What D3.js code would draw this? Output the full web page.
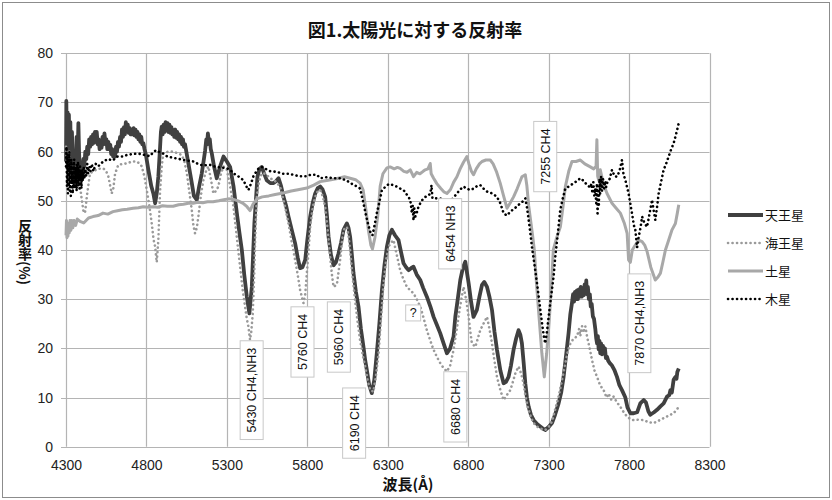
<!DOCTYPE html>
<html><head><meta charset="utf-8">
<script src="https://cdn.jsdelivr.net/npm/d3@7/dist/d3.min.js"></script>
<style>body{margin:0;background:#fff}</style>
</head><body>
<svg id="c" width="832" height="500"></svg>
<script>
const titleText = "図1.太陽光に対する反射率";
const xTitle = "波長(Å)";
const yTitle = "反射率(%)";
const xTicks = [4300,4800,5300,5800,6300,6800,7300,7800,8300];
const yTicks = [0,10,20,30,40,50,60,70,80];
const seriesNames = ["天王星","海王星","土星","木星"];

const uranus = [[4300,58],[4302,70.3],[4306,60],[4310,68],[4314,57],[4318,67.5],[4322,59],[4327,66],[4332,56],[4337,64],[4342,58],[4347,56],[4352,54],[4356,53.6],[4361,58],[4366,63],[4371,57],[4377,65.8],[4381,60],[4386,56],[4391,54.5],[4396,54.2],[4402,56],[4408,58.5],[4414,57],[4420,60],[4426,58.5],[4432,61],[4438,59.5],[4444,62.5],[4450,61],[4456,63],[4462,61.5],[4468,63.5],[4474,61.8],[4480,64],[4486,62],[4491,64],[4497,61.5],[4503,62.5],[4509,60.5],[4515,62],[4521,60.8],[4527,63],[4533,61.5],[4539,63.7],[4545,61.8],[4551,62.5],[4557,60.5],[4563,62],[4569,60.5],[4575,61.4],[4581,59.5],[4587,60.5],[4593,59],[4599,60],[4605,59],[4611,61],[4617,60],[4623,62],[4629,61],[4636,63],[4642,62],[4648,64.5],[4654,63],[4660,65],[4666,63.5],[4672,66],[4678,64.5],[4684,65.5],[4690,63.8],[4696,64.8],[4702,63.5],[4708,64.5],[4714,63.5],[4720,64.8],[4726,63.3],[4732,64.5],[4738,63],[4744,64],[4750,62.5],[4756,63.5],[4762,62],[4768,63],[4774,61.5],[4781,61.7],[4788,60.5],[4796,59.5],[4812,56.3],[4830,53],[4843,51.5],[4854,49.5],[4864,51.5],[4874,54.9],[4885,61],[4890,64],[4895,65.1],[4901,63.5],[4907,65.5],[4913,64],[4919,66],[4925,64.5],[4931,65.8],[4937,64],[4943,65.5],[4949,63.8],[4955,65],[4961,63.5],[4967,64.4],[4973,63],[4979,64.5],[4985,62.8],[4991,64],[4997,62.5],[5003,63.5],[5009,62],[5015,63],[5021,61.5],[5027,62.5],[5033,61],[5040,61.5],[5048,60],[5056,58.5],[5064,57],[5072,55.5],[5082,53.6],[5095,51],[5113,50.2],[5128,53],[5144,55.6],[5155,58],[5165,60.3],[5172,62.5],[5177,61.5],[5182,63.7],[5188,62],[5194,62.5],[5200,60.5],[5206,59.7],[5220,57],[5237,54.6],[5258,57],[5279,59],[5300,58],[5320,56.9],[5341,53],[5362,47.5],[5378,43.5],[5393,40],[5408,35],[5424,30.5],[5440,27.1],[5455,32.5],[5471,45.4],[5490,54.9],[5503,56.5],[5517,56.9],[5532,55.5],[5548,54.2],[5570,53.6],[5590,53.6],[5605,54],[5621,54.6],[5637,53],[5652,50.8],[5668,49],[5683,46.8],[5704,44],[5724,41.4],[5740,38.5],[5755,36.3],[5770,36.5],[5787,38],[5800,42],[5818,46.8],[5833,49.5],[5849,51.5],[5865,52.6],[5880,52.9],[5895,52.3],[5911,50.8],[5922,47],[5932,42.7],[5947,39],[5963,36.9],[5978,37.5],[5994,39.3],[6010,41.5],[6025,44.1],[6046,45.4],[6056,44.5],[6066,42.7],[6077,39],[6087,35.3],[6102,31.5],[6118,28.5],[6133,24],[6149,20.3],[6160,17.5],[6170,15.6],[6185,12.5],[6201,10.9],[6216,13.5],[6232,19],[6248,25],[6264,31.9],[6280,37],[6295,40.7],[6310,43],[6326,44.1],[6345,43],[6367,42],[6383,39.5],[6398,37.3],[6414,36.5],[6429,35.9],[6445,36.3],[6460,36.6],[6480,35],[6502,33.9],[6520,32.3],[6543,30.5],[6565,28.5],[6585,26.4],[6605,24.8],[6626,23.1],[6647,21],[6668,19],[6688,20],[6709,22.4],[6720,26.4],[6735,30],[6751,33.9],[6768,36.5],[6782,37.6],[6792,35.5],[6803,33.2],[6818,29.5],[6833,26.4],[6854,27.8],[6870,30.5],[6886,32.9],[6900,33.5],[6917,32.5],[6932,30.5],[6948,27.8],[6963,23.5],[6979,19.7],[7000,15.5],[7020,12.9],[7035,13.2],[7051,14.2],[7066,16.5],[7082,19.7],[7098,22],[7113,23.7],[7124,22.8],[7134,21],[7145,17],[7155,12.9],[7165,10],[7176,8.1],[7190,6.5],[7207,5.4],[7228,4.6],[7248,4.1],[7264,3.7],[7279,3.4],[7300,4],[7321,4.8],[7340,6.5],[7362,8.8],[7378,11],[7393,14.2],[7410,19],[7424,23.1],[7435,27],[7445,29.2],[7452,31],[7458,29.5],[7464,31.5],[7470,30],[7476,31.8],[7482,30],[7488,32],[7494,30.5],[7500,32.5],[7506,30.5],[7512,32],[7518,30.8],[7524,33],[7530,31.5],[7534,33.8],[7538,31],[7544,32.5],[7550,30],[7556,31],[7562,28.5],[7568,29],[7575,26.5],[7582,26],[7590,24],[7596,22],[7601,21],[7606,22.5],[7611,19.8],[7616,21.5],[7621,19],[7626,21],[7632,18.8],[7638,20.5],[7644,19],[7650,20],[7656,18],[7663,18.3],[7670,17.5],[7680,17],[7694,16.5],[7710,15.5],[7725,14.2],[7740,12.5],[7756,11.5],[7777,10],[7790,8],[7808,6.8],[7829,6.8],[7850,7],[7870,8.8],[7891,9.5],[7905,9],[7920,7.2],[7932,6.5],[7955,7],[7974,7.5],[7995,8.2],[8015,8.8],[8036,10.2],[8050,10.5],[8057,11.5],[8066,11],[8077,13.6],[8088,14.2],[8095,13.8],[8100,15.2],[8109,15.9]];

const neptune = [[4300,61],[4310,55],[4320,60],[4335,56],[4350,58],[4365,54],[4380,55],[4395,51],[4408,48],[4418,47.5],[4430,51],[4449,55.6],[4470,56],[4500,56.5],[4532,56.6],[4550,56],[4563,55],[4575,53],[4584,51.5],[4594,52.5],[4605,55.5],[4625,57.3],[4650,57.5],[4677,57.6],[4710,58],[4740,58],[4760,57.5],[4771,57],[4787,55],[4802,52.2],[4818,49],[4833,45.4],[4845,42],[4854,40.7],[4864,37.5],[4874,42],[4885,52.2],[4895,57],[4905,59.7],[4935,60],[4967,60],[5000,59.6],[5020,59.3],[5036,58],[5051,55.6],[5066,52],[5082,48.1],[5092,45],[5102,43.4],[5113,44.5],[5123,46.8],[5138,51],[5154,54.2],[5170,56],[5185,57],[5200,54.5],[5216,51.5],[5232,52],[5247,52.9],[5263,55.5],[5279,57],[5300,56.3],[5320,53],[5341,48.8],[5362,42.5],[5382,36.6],[5398,32],[5413,28.5],[5424,26],[5434,24.4],[5444,21.7],[5452,23.5],[5461,27.1],[5470,35],[5476,42],[5486,50.8],[5500,54],[5517,55.6],[5540,55.5],[5569,54.6],[5600,54],[5631,52.9],[5657,49.5],[5683,45.4],[5704,41.5],[5724,38],[5740,35],[5755,31.9],[5776,29.2],[5787,31],[5797,35.3],[5808,40],[5818,44.7],[5833,48.5],[5849,50.8],[5865,52],[5880,52.2],[5895,51],[5911,48.8],[5927,44],[5942,38.6],[5953,35],[5963,32.5],[5984,33],[5994,35.5],[6004,38],[6015,41.5],[6025,44.1],[6046,44.7],[6056,43],[6066,40],[6080,35],[6097,29.8],[6112,25.5],[6128,21.7],[6145,18.5],[6160,16.3],[6175,13.5],[6191,11.5],[6211,11.2],[6227,14.5],[6243,19],[6258,26],[6274,33.2],[6290,38],[6305,40.7],[6320,41.5],[6336,42],[6356,39],[6377,35.9],[6398,34],[6419,32.5],[6440,31.8],[6460,31.2],[6480,30],[6502,28.5],[6520,26.5],[6543,23.7],[6565,21.5],[6585,19.7],[6605,18.3],[6626,17],[6647,16],[6668,15.3],[6688,16.5],[6709,19.7],[6725,23],[6740,26.4],[6755,29.5],[6771,32.5],[6787,30],[6803,26.4],[6813,23.5],[6823,21],[6844,20.3],[6860,22],[6875,23.7],[6895,25],[6917,26.4],[6932,24],[6948,21],[6963,17.5],[6979,14.2],[7000,11.5],[7020,9.5],[7040,10.5],[7062,11.5],[7078,13.2],[7093,14.9],[7113,16.3],[7128,15],[7144,12.9],[7155,10.5],[7170,8.1],[7190,6],[7207,4.8],[7228,4.1],[7248,3.7],[7279,3.4],[7300,4],[7321,5.1],[7340,7.5],[7362,10.2],[7383,13.5],[7404,17],[7420,19.5],[7435,21],[7455,22],[7476,22.4],[7490,24],[7497,22.5],[7508,24.5],[7518,23.2],[7528,24.5],[7539,22.4],[7555,20],[7570,17.6],[7585,15.5],[7601,14.2],[7620,12.5],[7642,11.5],[7660,10],[7673,10.8],[7690,9.5],[7704,10.2],[7725,9],[7746,8.1],[7767,7],[7788,6.1],[7810,5.6],[7829,5.4],[7860,5.5],[7891,5.4],[7920,5],[7953,4.8],[7985,5.3],[8015,5.8],[8046,6.3],[8077,6.8],[8095,7.5],[8109,8.1]];

const saturn = [[4300,43],[4303,46],[4306,42.5],[4309,45.5],[4312,42.8],[4316,45.5],[4320,43.5],[4325,46],[4330,44],[4336,46],[4342,44.5],[4350,46],[4360,45],[4370,46.3],[4387,45.8],[4410,45.5],[4440,46.5],[4468,46.8],[4500,47],[4530,47.5],[4560,47.3],[4592,47.8],[4620,48],[4650,48.2],[4680,48.3],[4717,48.5],[4750,48.6],[4780,48.8],[4810,48.7],[4841,48.8],[4870,48.7],[4900,49],[4930,48.9],[4966,48.9],[5000,49.2],[5030,49.3],[5060,49.5],[5090,49.5],[5120,49.7],[5150,49.6],[5180,49.8],[5214,49.8],[5250,50],[5280,50.2],[5310,50.4],[5341,50.3],[5370,50],[5401,49.5],[5425,48.8],[5444,48],[5462,49.3],[5486,50.4],[5520,50.8],[5560,51],[5600,51.3],[5650,51.6],[5700,52],[5750,52.3],[5797,52.6],[5840,53.2],[5880,53.9],[5930,54.2],[5980,54.5],[6031,54.9],[6066,54.6],[6100,54.3],[6128,53.6],[6147,52.2],[6165,48],[6180,44],[6195,41],[6205,40.2],[6220,42.5],[6238,47],[6253,53],[6270,55.5],[6295,56.7],[6315,56.9],[6340,56.5],[6360,56.8],[6377,56.6],[6400,56],[6420,55.8],[6440,56.3],[6460,54.9],[6480,55.8],[6500,55.5],[6520,56],[6533,56.3],[6550,56.5],[6564,57.6],[6570,55.5],[6585,54.6],[6605,53.5],[6630,52.5],[6650,51.8],[6668,51.5],[6690,52.3],[6710,53.8],[6730,54.9],[6750,56.5],[6770,57.8],[6792,59],[6805,57.5],[6820,56],[6833,55.3],[6850,56.5],[6870,57.5],[6886,58],[6910,58.3],[6937,58.3],[6955,57.5],[6975,56],[6999,53.6],[7020,51],[7041,48.5],[7060,49.5],[7082,50.8],[7105,52.5],[7134,54.9],[7155,55.3],[7165,53],[7176,49],[7190,45.5],[7200,43],[7211,40],[7225,33],[7242,25.8],[7258,19],[7273,14.2],[7288,19],[7304,25.8],[7318,33],[7329,40],[7350,42.5],[7373,44.7],[7390,49],[7404,52.9],[7425,56],[7445,58],[7470,58],[7497,58.3],[7525,57.5],[7559,56.9],[7580,56.5],[7595,57],[7600,62.4],[7605,55],[7611,54.2],[7621,56.3],[7640,53.5],[7663,51.5],[7694,49.5],[7720,48.5],[7746,47.5],[7770,45.5],[7788,43.4],[7797,38],[7808,37.5],[7820,40],[7839,41],[7860,42],[7881,41.7],[7897,41],[7912,39.7],[7935,36.5],[7963,33.9],[7980,34.5],[7995,35.3],[8010,37.5],[8026,40],[8046,42],[8067,44.1],[8088,45.4],[8100,47.5],[8109,49.2]];

const jupiter = [[4300,57],[4303,61],[4306,53],[4309,59.5],[4312,51.5],[4315,58],[4318,53],[4321,60],[4324,52],[4327,57.5],[4330,51],[4333,58.5],[4336,53.5],[4339,56],[4342,51.5],[4345,57.5],[4348,53],[4351,58.5],[4354,52.5],[4357,57],[4360,54],[4363,56.5],[4366,52],[4369,57.5],[4372,54.5],[4375,58],[4378,53],[4381,56.5],[4384,52.5],[4387,57],[4390,54],[4393,56],[4396,52.5],[4400,56.5],[4405,54],[4410,57],[4415,54.5],[4420,56.5],[4426,55],[4432,57.5],[4438,55.5],[4445,57],[4452,56],[4460,57.5],[4470,56],[4485,57.5],[4500,57],[4531,58],[4560,58.5],[4590,58.2],[4620,59],[4650,59],[4677,59.3],[4710,59.5],[4740,59.6],[4770,59.5],[4800,59.2],[4822,59.1],[4845,60],[4864,60.3],[4885,59.8],[4905,59.6],[4930,59],[4960,58.8],[4989,58.6],[5020,58.4],[5050,58.2],[5092,58],[5120,57.5],[5150,57.2],[5196,57.3],[5230,56.9],[5260,56.8],[5300,56.6],[5320,56.3],[5345,55.5],[5370,55],[5390,54.5],[5403,54.2],[5420,53],[5434,52.2],[5450,53.5],[5465,55],[5476,55.6],[5495,56.5],[5517,56.9],[5540,56.5],[5570,56],[5610,55.9],[5650,55.5],[5680,55.5],[5714,55.3],[5750,55],[5790,55],[5820,55.3],[5859,55.3],[5880,54.6],[5920,54.8],[5960,54.6],[6004,54.6],[6040,54.2],[6075,53.5],[6108,52.9],[6128,52.5],[6149,49.5],[6165,47],[6180,45],[6195,43.3],[6205,43],[6218,45],[6232,47.5],[6243,49],[6264,52.2],[6284,52.8],[6305,53.4],[6336,53.2],[6360,52.8],[6377,52.5],[6398,52.2],[6420,51.2],[6440,50.2],[6450,47.5],[6455,49],[6460,46],[6465,48.5],[6471,46.8],[6480,47.5],[6491,48.8],[6510,50],[6533,50.8],[6550,51],[6565,51.5],[6572,53.2],[6578,50.5],[6600,50.5],[6626,50.5],[6650,50],[6678,49.8],[6700,50.3],[6730,51.5],[6750,52.3],[6771,52.9],[6790,52.5],[6813,52.2],[6835,52.5],[6855,53],[6875,53.2],[6895,52.5],[6917,51.9],[6950,51.5],[6979,50.8],[7000,49.5],[7020,47.5],[7040,47],[7062,47.8],[7090,48.5],[7124,49.5],[7145,50],[7155,50.5],[7166,48.5],[7176,46.1],[7186,43.5],[7196,40.7],[7212,37],[7228,33.2],[7244,29],[7259,25.1],[7270,22.5],[7279,21],[7290,23.5],[7300,26.4],[7315,30.5],[7331,34.6],[7341,38.5],[7356,43],[7372,48.1],[7388,50.5],[7404,52.5],[7430,53],[7455,53.6],[7475,54],[7497,54.6],[7520,54],[7539,53.2],[7560,52.7],[7566,53.5],[7572,51.5],[7578,53.8],[7584,51],[7590,52.5],[7596,49.5],[7600,53.5],[7604,47],[7608,52],[7612,48.8],[7616,54.5],[7620,51.5],[7626,55],[7632,52],[7638,54.5],[7645,52.5],[7652,54],[7658,52.8],[7663,53.6],[7680,54.5],[7694,56.3],[7710,55],[7725,54.9],[7740,56],[7756,58.3],[7765,55.5],[7777,54.2],[7797,51.5],[7818,47.5],[7830,45],[7839,44.1],[7850,40.5],[7860,42.7],[7871,44.5],[7881,46.8],[7895,45.5],[7912,44.7],[7928,47.5],[7943,50.2],[7953,48],[7963,46.1],[7975,49],[7984,51.5],[8000,54],[8015,56.3],[8030,57.5],[8046,59],[8062,60.5],[8077,61.7],[8092,63.5],[8109,65.8]];

const annotationLabels = ["5430 CH4,NH3","5760 CH4","5960 CH4","6190 CH4","?","6454 NH3","6680 CH4","7255 CH4","7870 CH4,NH3"];
const annotationWl = [5454,5770,5996,6091,6458,6688,6720,7279,7864];
const annotationVal = [11.5,21.3,22.3,4.8,27.2,43.3,8.1,59,25.1];

const svg = d3.select("#c");
const W = 832, H = 500;
const plot = {left:66, right:709.5, top:53.3, bottom:446.7};
const x = d3.scaleLinear().domain([4300,8300]).range([plot.left, plot.right]);
const y = d3.scaleLinear().domain([0,80]).range([plot.bottom, plot.top]);
const gridColor = "#b4b4b4";
const tickFont = "'Liberation Sans Narrow','Liberation Sans',Arial,sans-serif";
const jpFont = "'Noto Sans CJK JP','Noto Sans',sans-serif";

svg.append("rect").attr("x",0).attr("y",0).attr("width",W).attr("height",H).attr("fill","#fff");
svg.append("rect").attr("x",2.5).attr("y",2.5).attr("width",W-5).attr("height",H-5)
  .attr("fill","none").attr("stroke","#8c8c8c").attr("stroke-width",1);

// grid
const grid = svg.append("g");
grid.selectAll("line.h").data(yTicks).join("line")
  .attr("x1",plot.left-5).attr("x2",plot.right)
  .attr("y1",d=>Math.round(y(d))+0.5).attr("y2",d=>Math.round(y(d))+0.5)
  .attr("stroke",gridColor).attr("stroke-width",1.2);
grid.selectAll("line.v").data(xTicks).join("line")
  .attr("y1",plot.top).attr("y2",plot.bottom)
  .attr("x1",d=>Math.round(x(d))+0.5).attr("x2",d=>Math.round(x(d))+0.5)
  .attr("stroke",gridColor).attr("stroke-width",1.2);

// axes labels
const yAxis = svg.append("g").attr("transform",`translate(${plot.left},0)`)
  .call(d3.axisLeft(y).tickValues(yTicks).tickSize(0).tickPadding(13));
yAxis.select(".domain").remove();
yAxis.selectAll("text").attr("font-family",tickFont).attr("font-size",14).attr("fill","#222");
const xAxis = svg.append("g").attr("transform",`translate(0,${plot.bottom})`)
  .call(d3.axisBottom(x).tickValues(xTicks).tickFormat(d3.format("d")).tickSize(0).tickPadding(13));
xAxis.select(".domain").remove();
xAxis.selectAll("text").attr("font-family",tickFont).attr("font-size",14).attr("fill","#222");

// series
const line = d3.line().x(d=>x(d[0])).y(d=>y(d[1]));
const styles = [
  {data:uranus, color:"#404040", width:3.8, dash:null, cap:"butt"},
  {data:neptune, color:"#9a9a9a", width:2.6, dash:"0.1,4.4", cap:"round"},
  {data:saturn, color:"#a8a8a8", width:3, dash:null, cap:"butt"},
  {data:jupiter, color:"#000", width:2.6, dash:"0.1,4.4", cap:"round"}
];
styles.forEach(s=>{
  svg.append("path").datum(s.data).attr("d",line).attr("fill","none")
    .attr("stroke",s.color).attr("stroke-width",s.width)
    .attr("stroke-dasharray",s.dash).attr("stroke-linecap",s.cap).attr("stroke-linejoin","round");
});

// annotations
annotationLabels.forEach((lab,i)=>{
  const cx = x(annotationWl[i]), cy = y(annotationVal[i]);
  const g = svg.append("g").attr("transform",`translate(${cx},${cy})` + (lab==="?"?"":" rotate(-90)"));
  const r = g.append("rect").attr("fill","#fff").attr("stroke","#c8c8c8").attr("stroke-width",1);
  const t = g.append("text").text(lab).attr("text-anchor","middle").attr("dy","0.36em")
    .attr("font-family","'Liberation Sans',Arial,sans-serif").attr("font-size",12.5).attr("fill","#111");
  const len = t.node().getComputedTextLength();
  const padL = lab==="?"?4:7;
  const hh = lab==="?"?16:23;
  r.attr("x",-len/2-padL).attr("y",-hh/2).attr("width",len+2*padL).attr("height",hh);
});

// title
svg.append("text").attr("x",415).attr("y",37).attr("text-anchor","middle")
  .attr("font-family",jpFont).attr("font-weight","bold").attr("font-size",18).attr("fill","#111")
  .text(titleText);
// x title
svg.append("text").attr("x",408).attr("y",490).attr("text-anchor","middle")
  .attr("font-family",jpFont).attr("font-weight","bold").attr("font-size",15).attr("fill","#111")
  .text(xTitle);
// y title (vertical writing)
svg.append("text").attr("x",25).attr("y",219)
  .attr("writing-mode","tb").style("writing-mode","vertical-rl")
  .attr("font-family",jpFont).attr("font-weight","bold").attr("font-size",14).attr("fill","#111")
  .text(yTitle);

// legend
const lg = svg.append("g");
seriesNames.forEach((n,i)=>{
  const s = styles[i];
  const ly = 215 + i*28;
  lg.append("line").attr("x1",728).attr("x2",763).attr("y1",ly).attr("y2",ly)
    .attr("stroke",s.color).attr("stroke-width",s.width).attr("stroke-dasharray",s.dash).attr("stroke-linecap",s.cap);
  lg.append("text").attr("x",765).attr("y",ly).attr("dy","0.36em")
    .attr("font-family",jpFont).attr("font-size",13).attr("fill","#111").text(n);
});
</script>
</body></html>
